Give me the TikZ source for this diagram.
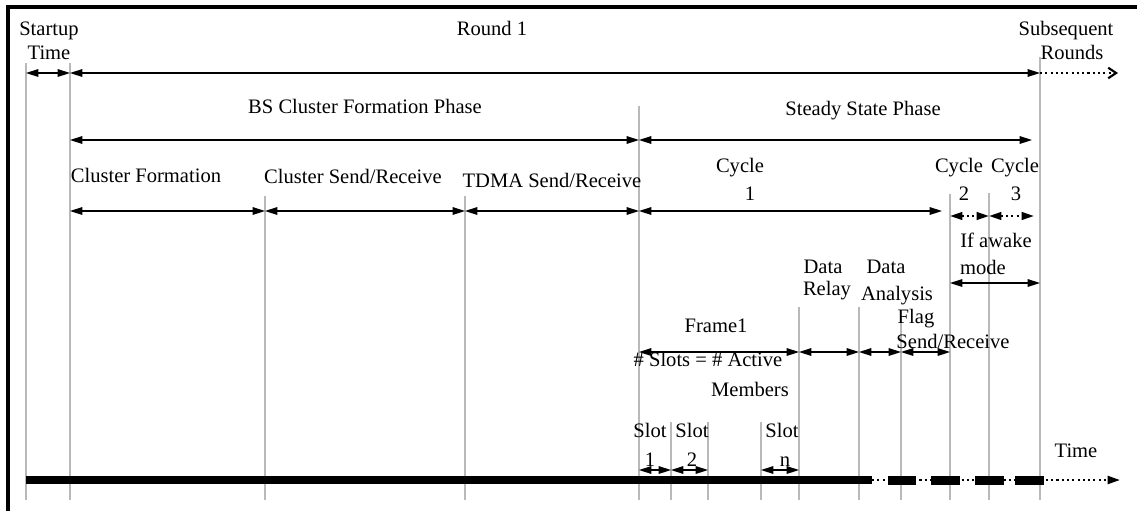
\documentclass[tikz,border=0pt]{standalone}
\usepackage{fontspec}
\setmainfont{Liberation Serif}
\usetikzlibrary{arrows.meta}

\tikzset{
  lbl/.style={anchor=base, inner sep=0pt, font=\fontsize{11.7}{13}\selectfont},
  dimarrow/.style={{Triangle[length=7pt,width=4.3pt]}-{Triangle[length=7pt,width=4.3pt]}, line width=0.8pt},
  dimdots/.style={dimarrow, line width=1.3pt, dash pattern=on 1.2pt off 1.8pt},
  guide/.style={gray!55, line width=0.6pt},
  frameline/.style={line width=1.8pt},
  timebar/.style={line width=5pt},
}

\begin{document}
\begin{tikzpicture}[x=0.02cm, y=-0.02cm]
\useasboundingbox (0,0) rectangle (1137,511);

% frame
\draw[frameline] (8,511) -- (8,7) -- (1137,7);

% time marks
\coordinate (t0) at (26,0);
\coordinate (t1) at (70,0);
\coordinate (t2) at (265,0);
\coordinate (t3) at (465,0);
\coordinate (t4) at (639,0);
\coordinate (s1) at (671,0);
\coordinate (s2) at (708,0);
\coordinate (sn) at (761,0);
\coordinate (t5) at (799,0);
\coordinate (t6) at (859,0);
\coordinate (t7) at (901,0);
\coordinate (t8) at (950,0);
\coordinate (t9) at (989,0);
\coordinate (t10) at (1040,0);

% rows
\coordinate (rRound) at (0,73);
\coordinate (rPhase) at (0,140);
\coordinate (rPart) at (0,211);
\coordinate (rCyc) at (0,216);
\coordinate (rAwake) at (0,283);
\coordinate (rFrame) at (0,352);
\coordinate (rSlot) at (0,470);
\coordinate (rTime) at (0,480);

% guide lines
\draw[guide] (t0 |- 0,63) -- (t0 |- 0,500);
\draw[guide] (t1 |- 0,63) -- (t1 |- 0,500);
\draw[guide] (t2 |- 0,196) -- (t2 |- 0,500);
\draw[guide] (t3 |- 0,196) -- (t3 |- 0,500);
\draw[guide] (t4 |- 0,106) -- (t4 |- 0,500);
\draw[guide] (s1 |- 0,422) -- (s1 |- 0,500);
\draw[guide] (s2 |- 0,422) -- (s2 |- 0,500);
\draw[guide] (sn |- 0,422) -- (sn |- 0,500);
\draw[guide] (t5 |- 0,307) -- (t5 |- 0,500);
\draw[guide] (t6 |- 0,307) -- (t6 |- 0,500);
\draw[guide] (t7 |- 0,318) -- (t7 |- 0,500);
\draw[guide] (t8 |- 0,194) -- (t8 |- 0,500);
\draw[guide] (t9 |- 0,193) -- (t9 |- 0,500);
\draw[guide] (t10 |- 0,57) -- (t10 |- 0,500);

% labels
\node[lbl] (startup) at (49,35) {Startup};
\node[lbl] (startupb) at (49,59) {Time};
\node[lbl] (round) at (492,35) {Round 1};
\node[lbl] (subseq) at (1066,35) {Subsequent};
\node[lbl] (subseqb) at (1072,59) {Rounds};
\node[lbl] (bsphase) at (365,113) {BS Cluster Formation Phase};
\node[lbl] (ssphase) at (863,115) {Steady State Phase};
\node[lbl] (clform) at (146,182) {Cluster Formation};
\node[lbl] (clsend) at (353,183) {Cluster Send/Receive};
\node[lbl] (tdma) at (552,187) {TDMA Send/Receive};
\node[lbl] (cyc1) at (740,172) {Cycle};
\node[lbl] (cyc1b) at (750,200) {1};
\node[lbl] (cyc2) at (959,172) {Cycle};
\node[lbl] (cyc2b) at (964,200) {2};
\node[lbl] (cyc3) at (1015,172) {Cycle};
\node[lbl] (cyc3b) at (1016,200) {3};
\node[lbl] (awake) at (996,247) {If awake};
\node[lbl] (awakeb) at (983,274) {mode};
\node[lbl] (relay) at (823,273) {Data};
\node[lbl] (relayb) at (827,295) {Relay};
\node[lbl] (anal) at (886,273) {Data};
\node[lbl] (analb) at (897,300) {Analysis};
\node[lbl] (flag) at (916,323) {Flag};
\node[lbl] (flagb) at (953,348) {Send/Receive};
\node[lbl] (frame) at (716,332) {Frame1};
\node[lbl] (slots) at (708,366) {\# Slots = \# Active};
\node[lbl] (slotsb) at (750,396) {Members};
\node[lbl] (slot1) at (650,437) {Slot};
\node[lbl] (slot1b) at (650,466) {1};
\node[lbl] (slot2) at (692,437) {Slot};
\node[lbl] (slot2b) at (692,466) {2};
\node[lbl] (slotn) at (782,437) {Slot};
\node[lbl] (slotnb) at (785,466) {n};
\node[lbl] (time) at (1076,457) {Time};

% spans
\draw[dimarrow] (t0 |- rRound) -- (t1 |- rRound);
\draw[dimarrow] (t1 |- rRound) -- (t10 |- rRound);
\coordinate (roundEnd) at (1118,73);
\draw[dimdots, -{Straight Barb[length=4.5pt,width=6pt,line width=1.2pt]}] (t10 |- rRound) -- (roundEnd);

\draw[dimarrow] (t1 |- rPhase) -- (t4 |- rPhase);
\draw[dimarrow, shorten >=0.16cm] (t4 |- rPhase) -- (t10 |- rPhase);

\draw[dimarrow] (t1 |- rPart) -- (t2 |- rPart);
\draw[dimarrow] (t2 |- rPart) -- (t3 |- rPart);
\draw[dimarrow] (t3 |- rPart) -- (t4 |- rPart);
\draw[dimarrow, shorten >=0.16cm] (t4 |- rPart) -- (t8 |- rPart);
\draw[dimdots] (t8 |- rCyc) -- (t9 |- rCyc);
\draw[dimdots, shorten >=0.12cm] (t9 |- rCyc) -- (t10 |- rCyc);
\draw[dimarrow] (t8 |- rAwake) -- (t10 |- rAwake);

\draw[dimarrow] (t4 |- rFrame) -- (t5 |- rFrame);
\draw[dimarrow] (t5 |- rFrame) -- (t6 |- rFrame);
\draw[dimarrow] (t6 |- rFrame) -- (t7 |- rFrame);
\draw[dimarrow] (t7 |- rFrame) -- (t8 |- rFrame);

\draw[dimarrow] (t4 |- rSlot) -- (s1 |- rSlot);
\draw[dimarrow] (s1 |- rSlot) -- (s2 |- rSlot);
\draw[dimarrow] (sn |- rSlot) -- (t5 |- rSlot);

% time axis
\coordinate (barEnd) at (872,480);
\coordinate (timeEnd) at (1120,480);
\draw[timebar] (t0 |- rTime) -- (barEnd);
\draw[line width=1.3pt, dash pattern=on 1.2pt off 1.8pt, -{Triangle[length=7pt,width=4.5pt]}] (barEnd) -- (timeEnd);
\foreach \a/\b in {888/916, 931/960, 975/1004, 1015/1044}
  \fill (\a,476) rectangle (\b,485);

\end{tikzpicture}
\end{document}
